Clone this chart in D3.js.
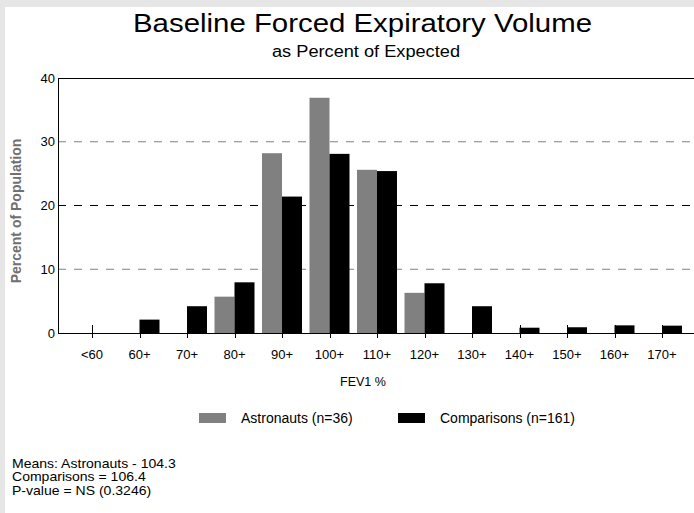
<!DOCTYPE html>
<html>
<head>
<meta charset="utf-8">
<script src="https://cdn.jsdelivr.net/npm/d3@7"></script>
<style>
  body { margin: 0; background: #e6e6e6; }
  svg { display: block; font-family: Arial, "Liberation Sans", sans-serif; }
</style>
</head>
<body>
<svg id="chart" width="694" height="513"></svg>
<script>
// categories and values (percent of population)
const categories = ['<60', '60+', '70+', '80+', '90+', '100+', '110+', '120+', '130+', '140+', '150+', '160+', '170+'];
const astronauts = [0, 0, 0, 5.7, 28.2, 36.9, 25.6, 6.3, 0, 0, 0, 0, 0];
const comparisons = [0, 2.1, 4.2, 7.95, 21.4, 28.1, 25.4, 7.8, 4.2, 0.83, 0.9, 1.2, 1.15];
const yTicks = [0, 10, 20, 30, 40];
const gridLines = [10, 20, 30];
const legendItems = ['Astronauts (n=36)', 'Comparisons (n=161)'];
const footnotes = ['Means: Astronauts - 104.3', 'Comparisons = 106.4', 'P-value = NS (0.3246)'];

const svg = d3.select('#chart');
const width = +svg.attr('width'),
  height = +svg.attr('height');

// 图区域
const plot = {left: 58, right: 694, top: 78, bottom: 333};
const barW = 20;
const colors = ['#808080', '#000000'];

svg.append('rect').attr('width', width).attr('height', height).attr('fill', '#e6e6e6');
svg.append('rect').attr('x', 5).attr('y', 7).attr('width', width - 5).attr('height', height - 7).attr('fill', '#fff');

const x = d3.scalePoint().domain(categories).range([92, 662]);
const y = d3.scaleLinear().domain([0, 40]).range([plot.bottom, plot.top]);

// titles (the original text is drawn a bit wider than plain Arial)
svg.append('text')
  .attr('x', 133).attr('y', 32)
  .attr('font-size', 26)
  .attr('textLength', 459)
  .attr('lengthAdjust', 'spacingAndGlyphs')
  .text('Baseline Forced Expiratory Volume');
svg.append('text')
  .attr('x', 272).attr('y', 57)
  .attr('font-size', 16)
  .attr('textLength', 188)
  .attr('lengthAdjust', 'spacingAndGlyphs')
  .text('as Percent of Expected');

// dashed grid
svg.append('g')
  .selectAll('line')
  .data(gridLines)
  .join('line')
  .attr('x1', plot.left).attr('x2', plot.right)
  .attr('y1', d => y(d)).attr('y2', d => y(d))
  .attr('stroke', d => d === 20 ? '#000' : '#808080')
  .attr('stroke-width', 1)
  .attr('stroke-dasharray', '8,8');

// bars
const barData = [];
categories.forEach((c, i) => {
  barData.push({cat: c, v: astronauts[i], s: 0});
  barData.push({cat: c, v: comparisons[i], s: 1});
});

svg.append('g')
  .selectAll('rect')
  .data(barData.filter(d => d.v > 0))
  .join('rect')
  .attr('x', d => x(d.cat) + (d.s === 0 ? -barW : 0))
  .attr('width', barW)
  .attr('y', d => y(d.v))
  .attr('height', d => y(0) - y(d.v))
  .attr('fill', d => colors[d.s]);

// axes frame
const axisG = svg.append('g').attr('stroke', '#000').attr('stroke-width', 1);
axisG.append('line')
  .attr('x1', plot.left + 0.5).attr('x2', plot.left + 0.5)
  .attr('y1', plot.top).attr('y2', plot.bottom);
axisG.append('line')
  .attr('x1', plot.left).attr('x2', plot.right)
  .attr('y1', plot.top + 0.5).attr('y2', plot.top + 0.5);
axisG.append('line')
  .attr('x1', plot.left).attr('x2', plot.right)
  .attr('y1', plot.bottom + 0.5).attr('y2', plot.bottom + 0.5);

// x ticks
axisG.selectAll('.xtick')
  .data(categories)
  .join('line')
  .attr('class', 'xtick')
  .attr('x1', d => Math.round(x(d)) + 0.5).attr('x2', d => Math.round(x(d)) + 0.5)
  .attr('y1', plot.bottom - 8).attr('y2', plot.bottom + 5);

svg.append('g')
  .attr('font-size', 13)
  .attr('text-anchor', 'middle')
  .selectAll('text')
  .data(categories)
  .join('text')
  .attr('x', d => x(d))
  .attr('y', 359)
  .text(d => d);

// y tick labels
svg.append('g')
  .attr('font-size', 13)
  .attr('text-anchor', 'end')
  .selectAll('text')
  .data(yTicks)
  .join('text')
  .attr('x', 55)
  .attr('y', d => y(d) + 4.5)
  .text(d => d);

// axis titles
svg.append('text')
  .attr('x', 363).attr('y', 386)
  .attr('text-anchor', 'middle')
  .attr('font-size', 12.5)
  .text('FEV1 %');

svg.append('text')
  .attr('transform', 'translate(21,211) rotate(-90)')
  .attr('text-anchor', 'middle')
  .attr('font-size', 14)
  .attr('font-weight', 'bold')
  .attr('fill', '#707070')
  .text('Percent of Population');

// legend
const legendX = [199, 398];
const legend = svg.append('g')
  .selectAll('g')
  .data(legendItems)
  .join('g')
  .attr('transform', (d, i) => `translate(${legendX[i]},413)`);
legend.append('rect')
  .attr('width', 27).attr('height', 10)
  .attr('fill', (d, i) => colors[i]);
legend.append('text')
  .attr('x', 42).attr('y', 10)
  .attr('font-size', 14)
  .text(d => d);

// footnotes
svg.append('g')
  .attr('transform', 'translate(12,0) scale(1.17,1)')
  .attr('font-size', 12)
  .selectAll('text')
  .data(footnotes)
  .join('text')
  .attr('x', 0)
  .attr('y', (d, i) => 468 + i * 13.5)
  .text(d => d);
</script>
</body>
</html>
